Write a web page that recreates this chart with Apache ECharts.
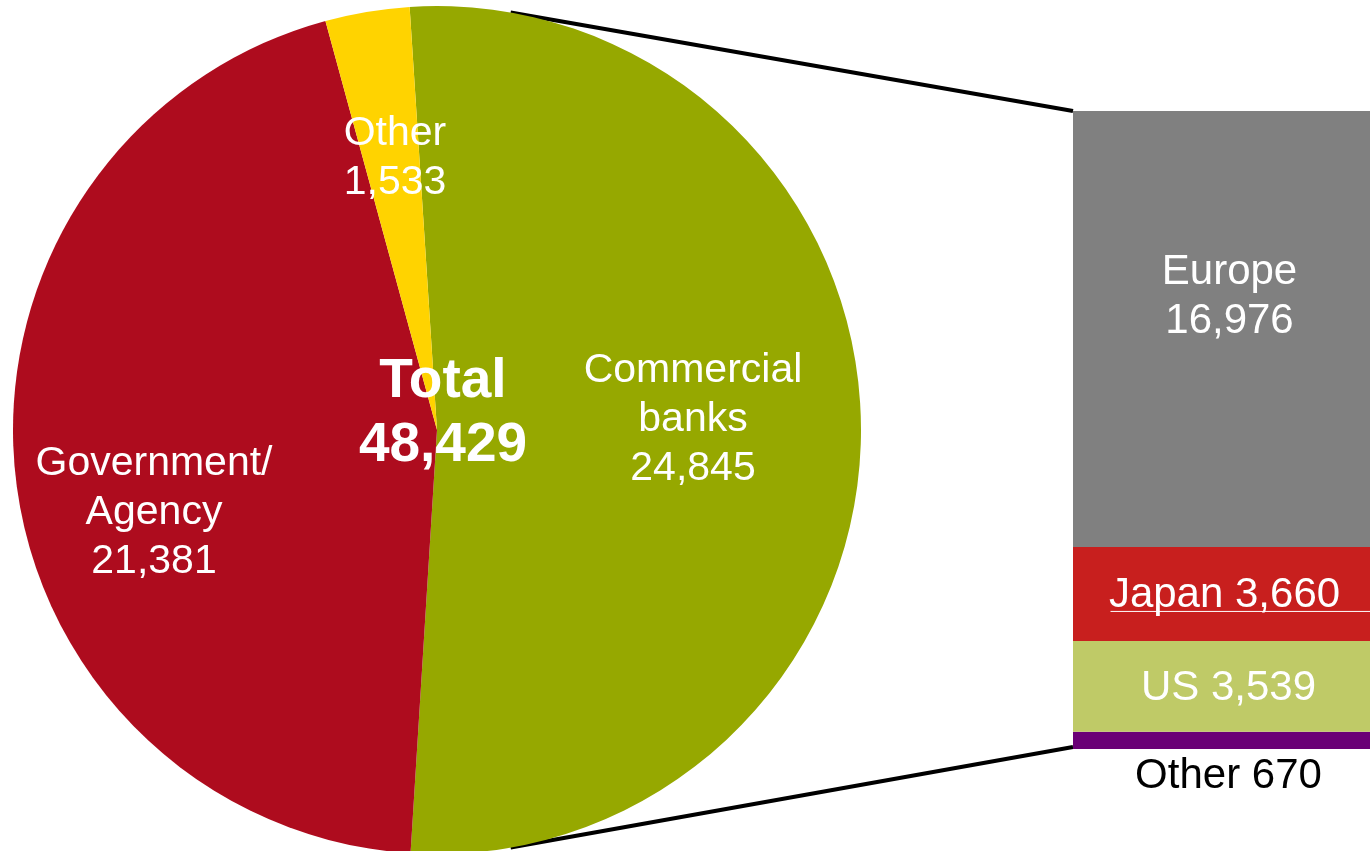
<!DOCTYPE html>
<html>
<head>
<meta charset="utf-8">
<script src="https://cdn.jsdelivr.net/npm/echarts@6/dist/echarts.min.js"></script>
<style>
  html, body { margin: 0; padding: 0; background: #ffffff; }
  #chart { width: 1370px; height: 851px; }
</style>
</head>
<body>
<div id="chart"></div>
<script>
// Holdings by sector (pie) and the regional split of commercial banks (stacked bar)
const sectorNames  = ['Commercial\nbanks', 'Government/\nAgency', 'Other'];
const sectorValues = [24845, 21381, 1533];
const totalValue   = 48429;

const regionNames  = ['Other', 'US', 'Japan', 'Europe'];   // stacked bottom to top
const regionValues = [670, 3539, 3660, 16976];

const FONT = '"Liberation Sans", Arial, Helvetica, sans-serif';
const PIE = { cx: 437, cy: 430, r: 424 };
const GRID = { left: 1073, top: 111, width: 313, height: 638 };

const sectorColors = ['#96A800', '#AE0C1E', '#FFD300'];
const regionColors = ['#6A0076', '#BFCA67', '#C81F1E', '#808080'];

// label anchors inside the pie, relative to the pie centre
const sectorLabelOffsets = [[256, -10], [-283, 83], [-42, -272]];
// label shifts for the bar segments, bottom to top
const regionLabelOffsets = [[7, 0], [7, 2], [3, 1], [8, -32]];

const fmt = v => v.toLocaleString('en-US');
const barTotal = regionValues.reduce((a, b) => a + b, 0);

const chart = echarts.init(document.getElementById('chart'), null, { renderer: 'canvas' });

const barSeries = regionNames.map((name, i) => {
  const isEurope = name === 'Europe';
  const isOther = name === 'Other';
  return {
    type: 'bar',
    name: name,
    stack: 'regions',
    barWidth: '100%',
    barCategoryGap: 0,
    itemStyle: { color: regionColors[i] },
    label: {
      show: true,
      position: isOther ? 'bottom' : 'inside',
      distance: 3,
      offset: regionLabelOffsets[i],
      color: isOther ? '#000000' : '#ffffff',
      fontFamily: FONT,
      fontSize: 42,
      lineHeight: 49,
      formatter: p => isEurope ? name + '\n' + fmt(p.value) : name + ' ' + fmt(p.value)
    },
    data: [regionValues[i]]
  };
});

const option = {
  animation: false,
  backgroundColor: '#ffffff',
  grid: { left: GRID.left, top: GRID.top, width: GRID.width, height: GRID.height, containLabel: false },
  xAxis: { type: 'category', data: ['Commercial banks'], show: false },
  yAxis: { type: 'value', min: 0, max: barTotal, show: false },
  series: [
    {
      type: 'pie',
      center: [PIE.cx, PIE.cy],
      radius: PIE.r,
      startAngle: 93.7,
      clockwise: true,
      avoidLabelOverlap: false,
      itemStyle: { borderWidth: 0 },
      emphasis: { disabled: true },
      label: {
        show: true,
        position: 'inside',
        color: '#ffffff',
        fontFamily: FONT,
        fontSize: 41,
        lineHeight: 49,
        align: 'center',
        formatter: p => p.name + '\n' + fmt(p.value)
      },
      labelLine: { show: false },
      labelLayout: p => ({
        x: PIE.cx + sectorLabelOffsets[p.dataIndex][0],
        y: PIE.cy + sectorLabelOffsets[p.dataIndex][1],
        align: 'center',
        verticalAlign: 'middle'
      }),
      data: sectorNames.map((n, i) => ({ name: n, value: sectorValues[i], itemStyle: { color: sectorColors[i] } }))
    },
    ...barSeries
  ]
};
chart.setOption(option);

// connector lines from the commercial-banks slice to the bar, total in the middle
const rad = d => d * Math.PI / 180;
const onPie = az => [PIE.cx + PIE.r * Math.sin(rad(az)), PIE.cy - PIE.r * Math.cos(rad(az))];
const barTopY = chart.convertToPixel({ yAxisIndex: 0 }, barTotal);
const barBottomY = chart.convertToPixel({ yAxisIndex: 0 }, 0);
const barLeftX = GRID.left;
const barCenterX = GRID.left + GRID.width / 2;
const japanBase = regionValues[0] + regionValues[1];
const japanMidY = chart.convertToPixel({ yAxisIndex: 0 }, japanBase + regionValues[2] / 2);

chart.setOption({
  graphic: [
    {
      type: 'line', silent: true,
      shape: { x1: onPie(10)[0], y1: onPie(10)[1], x2: barLeftX, y2: barTopY },
      style: { stroke: '#000000', lineWidth: 4 }
    },
    {
      type: 'line', silent: true,
      shape: { x1: onPie(170)[0], y1: onPie(170)[1], x2: barLeftX, y2: barBottomY - 2 },
      style: { stroke: '#000000', lineWidth: 4 }
    },
    {
      type: 'line', silent: true, z: 100,
      shape: { x1: barCenterX - 119, y1: japanMidY + 17.5, x2: GRID.left + GRID.width, y2: japanMidY + 17.5 },
      style: { stroke: '#ffffff', lineWidth: 1 }
    },
    {
      type: 'text', silent: true, z: 100,
      x: PIE.cx + 6, y: PIE.cy - 16,
      style: {
        text: 'Total\n' + fmt(totalValue),
        fill: '#ffffff',
        font: 'bold 55px ' + FONT,
        lineHeight: 64,
        align: 'center',
        verticalAlign: 'middle'
      }
    }
  ]
});
</script>
</body>
</html>
